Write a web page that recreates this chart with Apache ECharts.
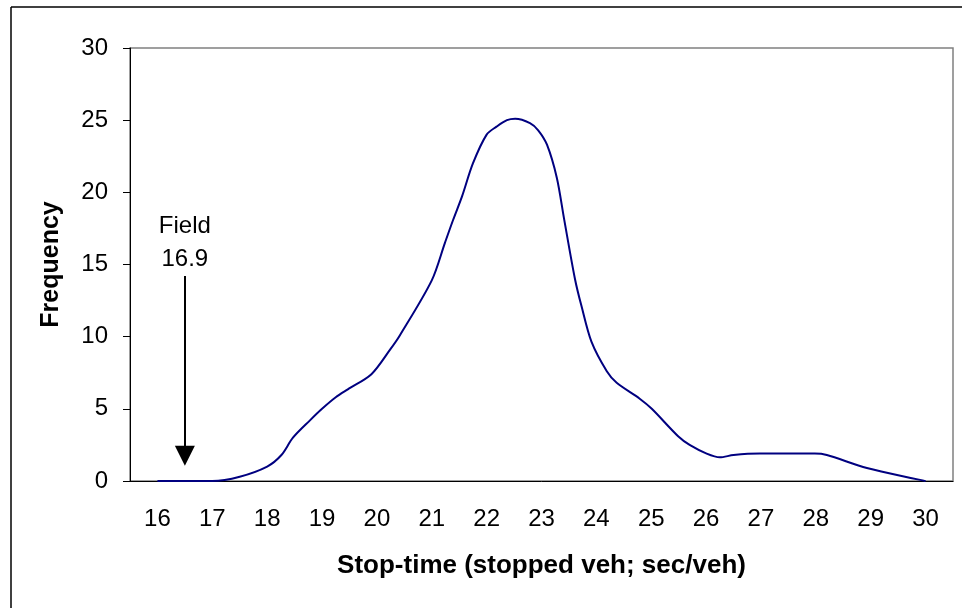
<!DOCTYPE html>
<html><head><meta charset="utf-8">
<script src="https://cdn.jsdelivr.net/npm/echarts@6/dist/echarts.min.js"></script>
<style>html,body{margin:0;padding:0;background:#fff}#c{width:962px;height:608px}</style>
</head><body><div id="c"></div>
<script>
var categories = ['16','17','18','19','20','21','22','23','24','25','26','27','28','29','30'];
var stopTime = [16, 17, 17.5, 18, 18.26, 18.47, 18.78, 19, 19.25, 19.47, 19.9, 20.24, 20.42, 21.0, 21.24, 21.39, 21.55, 21.75, 22.0, 22.18, 22.37, 22.52, 22.79, 22.94, 23.1, 23.28, 23.41, 23.61, 23.73, 23.91, 24.19, 24.37, 24.79, 25.01, 25.49, 25.7, 26.01, 26.25, 26.5, 26.98, 27.98, 28.2, 28.93, 30];
var frequency = [0, 0, 0.3, 1.0, 1.8, 3.0, 4.2, 5.0, 5.8, 6.35, 7.4, 9.1, 10.1, 13.9, 16.5, 18.1, 19.7, 22.0, 24.0, 24.55, 25.0, 25.1, 24.8, 24.3, 23.3, 21.0, 18.2, 14.0, 12.1, 9.65, 7.6, 6.8, 5.7, 5.0, 3.1, 2.5, 1.9, 1.64, 1.8, 1.9, 1.9, 1.8, 0.9, 0];
var yTicks = [0, 5, 10, 15, 20, 25, 30];
var fieldValue = 16.9;
var arrowX = 16.5, arrowTop = 14.2, arrowTip = 1.75;

var chart = echarts.init(document.getElementById('c'));
var font = 'Liberation Sans, Arial, sans-serif';
chart.setOption({
  animation: false,
  textStyle: {fontFamily: font},
  graphic: [
    {type: 'line', shape: {x1: 11, y1: 7, x2: 962, y2: 7}, style: {stroke: '#000', lineWidth: 1.5}},
    {type: 'line', shape: {x1: 11, y1: 7, x2: 11, y2: 608}, style: {stroke: '#000', lineWidth: 1.5}}
  ],
  grid: {left: 130, right: 9, top: 48, bottom: 127, show: true, borderColor: '#808080', borderWidth: 1.5},
  xAxis: [{
    type: 'category', data: categories, boundaryGap: true, position: 'bottom',
    axisLine: {lineStyle: {color: '#000', width: 1}},
    axisTick: {length: 7, lineStyle: {color: '#000'}},
    axisLabel: {color: '#000', fontSize: 24, margin: 26, fontFamily: font},
    name: 'Stop-time (stopped veh; sec/veh)', nameLocation: 'middle', nameGap: 72,
    nameTextStyle: {color: '#000', fontSize: 26, fontWeight: 'bold', fontFamily: font},
    splitLine: {show: false}
  }, {
    type: 'value', min: 15.5, max: 30.5, show: false, position: 'bottom'
  }],
  yAxis: {
    type: 'value', min: yTicks[0], max: yTicks[yTicks.length - 1], interval: 5,
    axisLine: {show: true, lineStyle: {color: '#000', width: 1}},
    axisTick: {show: true, length: 7, lineStyle: {color: '#000'}},
    axisLabel: {color: '#000', fontSize: 24, margin: 22, fontFamily: font},
    splitLine: {show: false},
    name: 'Frequency', nameLocation: 'middle', nameGap: 66,
    nameTextStyle: {color: '#000', fontSize: 25, fontWeight: 'bold', fontFamily: font}
  },
  series: [{
    type: 'line', xAxisIndex: 1, yAxisIndex: 0,
    data: stopTime.map(function (x, i) { return [x, frequency[i]]; }),
    smooth: 0.3, showSymbol: false, symbol: 'none',
    lineStyle: {color: '#000080', width: 2},
    markLine: {
      silent: true, animation: false,
      symbol: ['none', 'triangle'], symbolSize: [20, 20],
      lineStyle: {color: '#000', width: 2, type: 'solid'},
      label: {show: true, position: 'start', formatter: 'Field\n' + fieldValue, color: '#000', fontSize: 24, lineHeight: 33, fontFamily: font, distance: 0},
      data: [[{coord: [arrowX, arrowTop]}, {coord: [arrowX, arrowTip]}]]
    }
  }]
});
</script></body></html>
